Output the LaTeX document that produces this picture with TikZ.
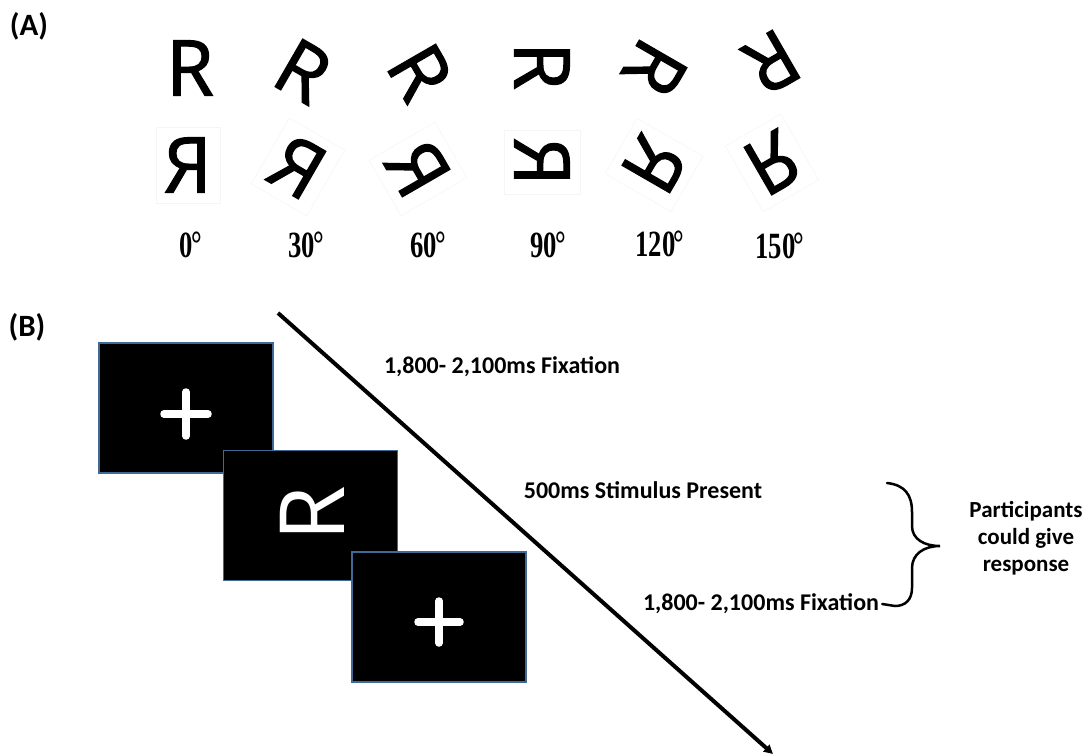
\documentclass[tikz,border=0pt]{standalone}
\usepackage{fontspec}
\usepackage{graphicx}
\setmainfont{Carlito}
\newfontfamily\letterfont{Open Sans}[FakeBold=1.6]
\newfontfamily\screenfont{Open Sans}
\newfontfamily\degfont{Liberation Serif}
\usetikzlibrary{arrows.meta}
\definecolor{screenedge}{RGB}{65,105,150}
\tikzset{
  glyph/.style={inner sep=0pt, font=\letterfont\fontsize{77}{77}\selectfont},
  mglyph/.style={glyph, draw=black!4, line width=0.5pt, minimum width=64pt, minimum height=76pt},
  deglabel/.style={inner sep=0pt, xscale=0.72, font=\degfont\bfseries\fontsize{37}{37}\selectfont},
  panel/.style={font=\bfseries\fontsize{31}{31}\selectfont, inner sep=0pt},
  screen/.style={draw=screenedge, fill=black, line width=1.5pt, minimum width=174pt, minimum height=130pt, inner sep=0pt},
  timing/.style={font=\bfseries\fontsize{24}{24}\selectfont, inner sep=0pt},
  cross/.style={draw=white, line width=7.5pt, line cap=round},
  timeline/.style={line width=4pt, -{Triangle[length=9pt,width=9pt]}},
  bracepath/.style={line width=2.5pt, line cap=round},
}
\newcommand{\mirR}{\reflectbox{R}}
\newcommand{\dg}{\kern-2.5pt\raisebox{1pt}{°}}
\begin{document}
\begin{tikzpicture}[x=1pt,y=-1pt]
\useasboundingbox (0,0) rectangle (1089,755);
\fill[white] (0,0) rectangle (1089,755);

% panel A: upright and mirrored letters at six rotations
\node[panel] (lblA) at (29,26) {(A)};

\node[glyph] (r0)   at (190,68) {R};
\node[glyph, rotate=-30]  (r30)  at (303,71) {R};
\node[glyph, rotate=-60]  (r60)  at (420,72) {R};
\node[glyph, rotate=-90]  (r90)  at (542,66) {R};
\node[glyph, rotate=-120] (r120) at (655,68) {R};
\node[glyph, rotate=-150] (r150) at (772,62) {R};

\node[mglyph] (m0)   at (188,165) {\mirR};
\node[mglyph, rotate=-30]  (m30)  at (298,167) {\mirR};
\node[mglyph, rotate=-60]  (m60)  at (418,169) {\mirR};
\node[mglyph, rotate=-90]  (m90)  at (542,162) {\mirR};
\node[mglyph, rotate=-120] (m120) at (654,165) {\mirR};
\node[mglyph, rotate=-150] (m150) at (772,163) {\mirR};

\node[deglabel] (d0)   at (191,245) {0\dg};
\node[deglabel] (d30)  at (306,245) {30\dg};
\node[deglabel] (d60)  at (428,245) {60\dg};
\node[deglabel] (d90)  at (548,245) {90\dg};
\node[deglabel] (d120) at (660,244) {120\dg};
\node[deglabel] (d150) at (780,246) {150\dg};

% panel B: trial sequence
\node[panel] (lblB) at (27,327) {(B)};

\node[screen] (s1) at (186,408) {};
\coordinate (c1) at (186,414);
\draw[cross] ([xshift=-22pt]c1) -- ([xshift=22pt]c1);
\draw[cross] ([yshift=-22pt]c1) -- ([yshift=22pt]c1);

\node[screen] (s2) at (310.5,515.5) {};
\node[inner sep=0pt, text=white, rotate=90, font=\screenfont\fontsize{90}{90}\selectfont] (stimR) at (312,514) {R};

\node[screen] (s3) at (439,617) {};
\coordinate (c3) at (439,622);
\draw[cross] ([xshift=-21pt]c3) -- ([xshift=21pt]c3);
\draw[cross] ([yshift=-21pt]c3) -- ([yshift=21pt]c3);

% time axis
\coordinate (tstart) at (278,313);
\coordinate (tend) at (773,754);
\draw[timeline] (tstart) -- (tend);

\node[timing] (fix1) at (502,367) {1,800- 2,100ms Fixation};
\node[timing] (stim) at (643,490) {500ms Stimulus Present};
\node[timing] (fix2) at (761,604) {1,800- 2,100ms Fixation};

\node[inner sep=0pt, align=center, font=\bfseries\fontsize{23}{27}\selectfont] (resp) at (1026,538) {Participants\\could give\\response};

% brace spanning the response window
\coordinate (btop) at (887,483);
\coordinate (btip) at (940,546);
\coordinate (bbot) at (895,606);
\draw[bracepath] (btop) .. controls (905,485) and (912,495) .. (912,512)
  -- (912,526) .. controls (912,539) and (924,546) .. (btip)
  .. controls (924,546) and (912,554) .. (912,568)
  -- (912,588) .. controls (912,600) and (905,606) .. (bbot)
  -- ([xshift=3pt]fix2.east);
\end{tikzpicture}
\end{document}
